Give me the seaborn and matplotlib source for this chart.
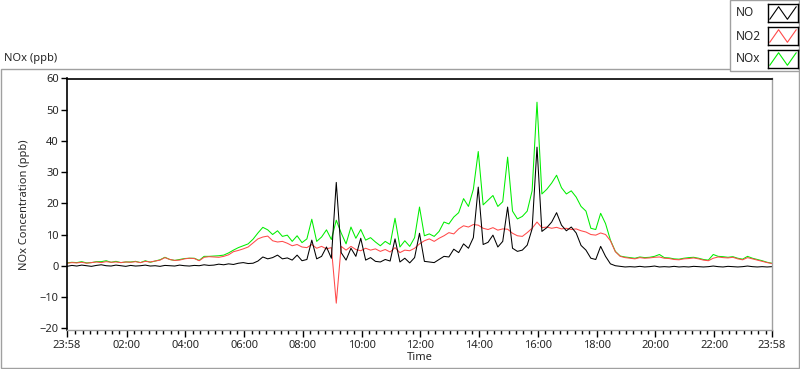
import numpy as np
import pandas as pd
import matplotlib
matplotlib.use("Agg")
import matplotlib.pyplot as plt
import seaborn as sns
from matplotlib.patches import Rectangle

# 10-minute samples, 23:58 to 23:58 next day
minutes = np.arange(0, 1441, 10)

no = [
    -0.2, 0.1, -0.1, 0.2, 0.0, -0.2, 0.1,
    0.3, 0.0, -0.1, 0.2, 0.0, -0.2,
    0.1, -0.1, 0.0, 0.2, -0.1, 0.0,
    -0.2, 0.1, 0.0, -0.1, 0.2, 0.0,
    -0.1, 0.1, 0.0, 0.3, 0.1, 0.2,
    0.5, 0.3, 0.6, 0.4, 0.8, 1.0,
    0.7, 0.8, 1.5, 2.8, 2.2, 2.6,
    3.4, 2.2, 2.5, 1.8, 3.4, 1.6,
    2.0, 8.2, 2.2, 3.0, 6.0, 2.4,
    26.7, 4.2, 1.8, 5.6, 3.0, 8.8,
    1.8, 2.6, 1.4, 1.2, 2.0, 1.5,
    8.6, 1.2, 2.4, 0.9, 2.6, 10.4,
    1.4, 1.2, 1.0, 2.0, 3.0, 2.8, 5.3, 4.2, 7.0, 5.6,
    9.0, 25.2, 6.8, 7.5, 9.8, 6.0, 7.8, 18.8, 5.6, 4.6,
    5.0, 6.6, 11.8, 38.0, 11.0, 12.2, 14.0, 17.0, 13.0, 11.2,
    12.4, 10.5, 6.5, 5.0, 2.4, 2.0, 6.2, 3.0, 0.6, 0.0,
    -0.2, -0.4, -0.3, -0.4, -0.2, -0.4, -0.3, -0.1,
    -0.4, -0.3, -0.4, -0.2, -0.4, -0.3, -0.4, -0.2,
    -0.3, -0.4, -0.3, -0.1, -0.3, -0.4, -0.2, -0.3,
    -0.4, -0.3, -0.1, -0.3, -0.4, -0.3, -0.4, -0.3,
]

no2 = [
    0.8, 1.0, 0.9, 1.1, 0.8, 1.0, 1.2,
    1.0, 1.3, 1.1, 1.2, 1.0, 1.2,
    1.1, 1.3, 1.0, 1.4, 1.2, 1.5,
    1.8, 2.6, 2.0, 1.7, 1.8, 2.2,
    2.4, 2.3, 1.6, 2.7, 2.9, 2.8,
    2.7, 3.0, 3.5, 4.5, 4.9, 5.4,
    6.0, 7.3, 8.6, 9.2, 9.5, 8.0,
    7.6, 7.8, 7.2, 6.4, 6.8, 6.0,
    5.8, 6.8, 5.6, 6.2, 5.4, 5.8,
    -12.0, 6.2, 5.0, 6.2, 5.2, 4.8,
    5.6, 5.0, 5.4, 4.6, 5.2, 4.4,
    5.8, 4.2, 5.0, 4.8, 5.6, 7.0,
    8.0, 8.6, 7.8, 8.8, 9.6, 10.6, 10.2, 11.8, 12.8, 12.4,
    13.2, 13.0, 12.0, 11.6, 12.2, 11.4, 11.8, 11.7, 10.4, 9.6,
    9.4, 10.6, 12.0, 14.0, 12.2, 12.4, 12.0, 12.3, 11.8, 12.0,
    11.6, 11.8, 11.2, 10.8, 10.0, 9.8, 10.5, 10.0, 8.0, 4.5,
    3.0, 2.6, 2.4, 2.2, 2.6, 2.4, 2.5, 2.7,
    2.8, 2.4, 2.3, 2.0, 1.9, 2.2, 2.3, 2.5,
    2.2, 1.8, 1.6, 2.4, 2.8, 2.6, 2.5, 2.7,
    2.2, 1.9, 2.6, 2.2, 1.8, 1.4, 1.0, 0.7,
]

nox = [
    0.9, 1.1, 1.0, 1.3, 0.9, 1.0, 1.3,
    1.3, 1.6, 1.1, 1.4, 1.0, 1.2,
    1.2, 1.4, 1.0, 1.6, 1.1, 1.5,
    1.9, 2.7, 2.0, 1.7, 2.0, 2.3,
    2.4, 2.4, 1.7, 3.0, 3.0, 3.1,
    3.2, 3.4, 4.1, 5.0, 5.8, 6.4,
    7.0, 8.5, 10.5, 12.3, 11.5, 10.0,
    11.2, 9.4, 9.8, 7.8, 9.6, 7.4,
    8.6, 14.9, 7.8, 9.2, 11.5, 8.4,
    14.6, 10.5, 7.0, 12.4, 8.8, 11.6,
    8.2, 9.0, 7.6, 6.4, 7.8, 6.8,
    15.2, 6.0, 8.0, 6.2, 9.0, 18.8,
    9.6, 10.2, 9.4, 11.0, 14.0, 13.4, 15.6, 17.0, 21.5, 19.0,
    24.5, 36.6, 19.5, 21.0, 22.5, 19.0, 20.5, 34.8, 17.5, 15.0,
    15.8, 17.5, 24.0, 52.4, 23.0, 24.5, 26.5, 29.0, 25.0, 23.0,
    24.0, 22.0, 19.0, 17.5, 12.0, 11.6, 16.8, 13.5, 8.2, 4.6,
    3.1, 2.8, 2.6, 2.4, 2.8, 2.6, 2.7, 3.0,
    3.6, 2.6, 2.5, 2.2, 2.1, 2.4, 2.6, 2.7,
    2.4, 2.0, 1.8, 3.6, 3.0, 2.9, 2.7, 2.9,
    2.4, 2.1, 3.0, 2.4, 2.0, 1.6, 1.1, 0.8,
]

x_labels = ["23:58", "02:00", "04:00", "06:00", "08:00", "10:00", "12:00",
            "14:00", "16:00", "18:00", "20:00", "22:00", "23:58"]
y_ticks = [-20, -10, 0, 10, 20, 30, 40, 50, 60]

df = pd.DataFrame({
    "hours": minutes / 60,
    "NO": no,
    "NO2": no2,
    "NOx": nox,
})

sns.set_style("white")
plt.rcParams["font.family"] = ["Noto Sans", "DejaVu Sans"]
plt.rcParams["font.size"] = 8

fig = plt.figure(figsize=(8, 3.69), dpi=100)
W, H = 800, 369

ax = fig.add_axes([67 / W, (H - 330) / H, 705 / W, (330 - 78.5) / H])

sns.lineplot(data=df, x="hours", y="NOx", color="#00ee00", lw=0.75, ax=ax)
sns.lineplot(data=df, x="hours", y="NO2", color="#ff4a4a", lw=0.75, ax=ax)
sns.lineplot(data=df, x="hours", y="NO", color="black", lw=0.75, ax=ax)

ax.set_xlim(0, 24)
ax.set_ylim(-20.6, 60)

# clock time starts at 23:58, so 00:00 sits 2 minutes in
off = 2 / 60
major = [0] + [off + 2 * k for k in range(1, 12)] + [24]
ax.set_xticks(major)
ax.set_xticklabels(x_labels)
minor = [off + 0.25 * k for k in range(96) if k % 8 != 0]
ax.set_xticks(minor, minor=True)
ax.set_yticks(y_ticks)

ax.tick_params(axis="x", which="major", direction="out", length=5, width=1,
               color="black", pad=2, labelsize=8)
ax.tick_params(axis="x", which="minor", direction="out", length=3, width=1,
               color="black")
ax.tick_params(axis="y", direction="out", length=4, width=1, color="black",
               pad=2, labelsize=8)
ax.tick_params(bottom=True, left=True, which="both")

for side in ["left", "top"]:
    ax.spines[side].set_color("black")
    ax.spines[side].set_linewidth(1.2)
for side in ["right", "bottom"]:
    ax.spines[side].set_color("#a0a0a0")
    ax.spines[side].set_linewidth(1)

ax.set_xlabel("Time", fontsize=8, labelpad=1)
ax.set_ylabel("NOx Concentration (ppb)", fontsize=8, labelpad=7)
ax.grid(False)

# outer panel frame
fig.add_artist(Rectangle((0.5 / W, 1 / H), 798.5 / W, (368 - 69) / H,
                         transform=fig.transFigure, fill=False,
                         edgecolor="#a0a0a0", lw=1))
fig.text(4 / W, 1 - 59 / H, "NOx (ppb)", fontsize=8, va="center", ha="left")

# legend panel
fig.add_artist(Rectangle((730 / W, (H - 71) / H), 69 / W, 71 / H,
                         transform=fig.transFigure, facecolor="white",
                         edgecolor="#a0a0a0", lw=1, zorder=5))
entries = [("NO", "black", 13), ("NO2", "#ff4a4a", 36), ("NOx", "#00ee00", 59)]
for name, col, yc in entries:
    fig.text(736 / W, 1 - yc / H, name, fontsize=8.5, va="center", ha="left",
             zorder=6)
    sw = fig.add_axes([768 / W, 1 - (yc + 9) / H, 30 / W, 18 / H], zorder=6)
    sw.plot([0, 1, 2, 3], [0.15, 0.85, 0.15, 0.85], color=col, lw=0.8)
    sw.set_xlim(-0.2, 3.2)
    sw.set_ylim(0, 1)
    sw.set_xticks([])
    sw.set_yticks([])
    for s in sw.spines.values():
        s.set_color("black")
        s.set_linewidth(1)

fig.savefig("out.png", dpi=100)
